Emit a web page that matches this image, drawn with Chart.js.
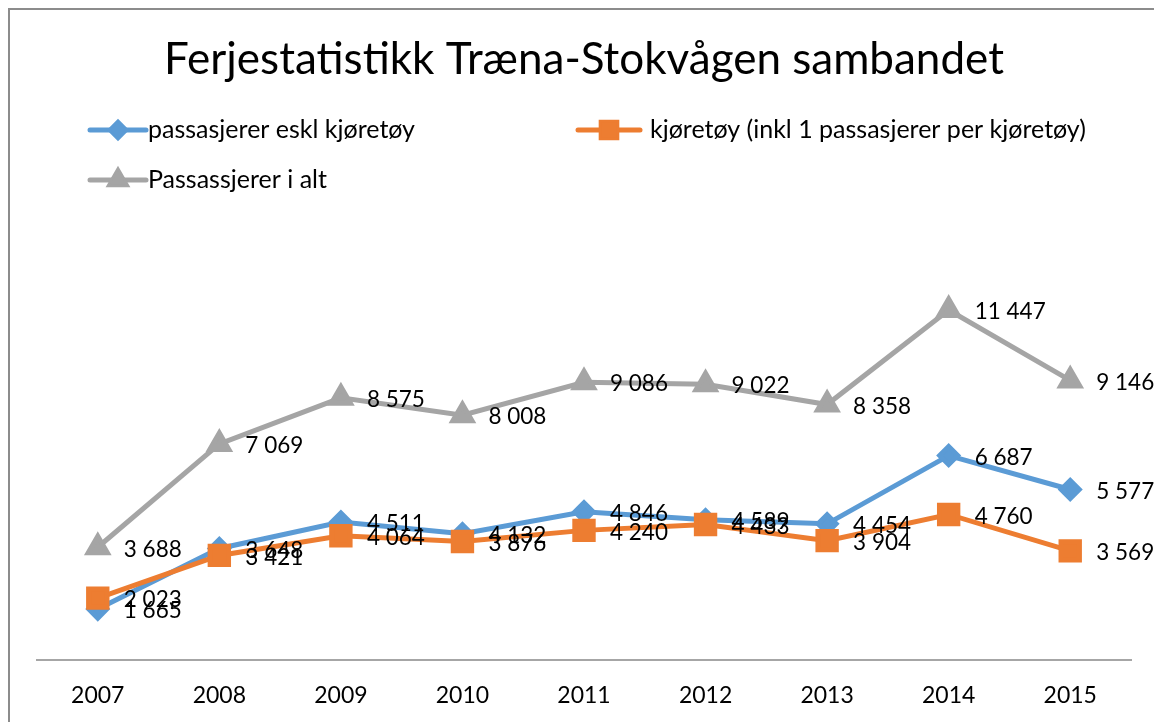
<!DOCTYPE html>
<html>
<head>
<meta charset="utf-8">
<script src="https://cdn.jsdelivr.net/npm/chart.js@4/dist/chart.umd.min.js"></script>
<style>
  html, body { margin: 0; padding: 0; background: #fff; }
  #wrap { position: relative; width: 1154px; height: 722px; }
</style>
</head>
<body>
<div id="wrap"><canvas id="ferje" width="1154" height="722"></canvas></div>
<script>
// Data
const years = ["2007", "2008", "2009", "2010", "2011", "2012", "2013", "2014", "2015"];
const passasjererEskl = [1665, 3648, 4511, 4132, 4846, 4589, 4454, 6687, 5577];
const kjoretoy = [2023, 3421, 4064, 3876, 4240, 4433, 3904, 4760, 3569];
const passasjererIAlt = [3688, 7069, 8575, 8008, 9086, 9022, 8358, 11447, 9146];

const seriesNames = [
  "passasjerer eskl kjøretøy",
  "kjøretøy (inkl 1 passasjerer per kjøretøy)",
  "Passassjerer i alt",
];
const titleText = "Ferjestatistikk Træna-Stokvågen sambandet";

const FONT = "Lato, 'Liberation Sans', sans-serif";
const colors = { blue: "#5b9bd5", orange: "#ed7d31", gray: "#a5a5a5" };

// format 11447 -> "11 447"
function fmt(v) {
  return String(v).replace(/\B(?=(\d{3})+(?!\d))/g, " ");
}

// Draws frame, title, legend and the value labels
const decorPlugin = {
  id: "decor",
  beforeDraw(chart) {
    const ctx = chart.ctx;
    ctx.save();
    ctx.fillStyle = "#fff";
    ctx.fillRect(0, 0, chart.width, chart.height);
    ctx.strokeStyle = "#8c8c8c";
    ctx.lineWidth = 2;
    ctx.beginPath();
    ctx.moveTo(9, chart.height);
    ctx.lineTo(9, 9);
    ctx.lineTo(chart.width, 9);
    ctx.stroke();
    ctx.restore();
  },
  afterDraw(chart) {
    const ctx = chart.ctx;
    ctx.save();

    // title
    ctx.fillStyle = "#000";
    ctx.font = "44px " + FONT;
    ctx.textAlign = "center";
    ctx.textBaseline = "middle";
    ctx.fillText(titleText, 584, 60);

    // legend
    const items = [
      { x: 90, y: 130, len: 56, gap: 58, ds: 0 },
      { x: 578, y: 130, len: 62, gap: 72, ds: 1 },
      { x: 90, y: 180, len: 56, gap: 58, ds: 2 },
    ];
    ctx.font = "25px " + FONT;
    ctx.textAlign = "left";
    items.forEach((it) => {
      const ds = chart.data.datasets[it.ds];
      ctx.strokeStyle = ds.borderColor;
      ctx.lineWidth = 5;
      ctx.lineCap = "round";
      ctx.beginPath();
      ctx.moveTo(it.x, it.y);
      ctx.lineTo(it.x + it.len, it.y);
      ctx.stroke();
      Chart.helpers.drawPoint(ctx, {
        pointStyle: ds.pointStyle,
        radius: ds.pointRadius * 0.85,
        rotation: 0,
        borderWidth: 1,
      }, it.x + it.len / 2, it.y);
      ctx.fillStyle = ds.backgroundColor;
      ctx.fill();
      ctx.fillStyle = "#000";
      ctx.fillText(seriesNames[it.ds], it.x + it.gap, it.y);
    });

    // value labels to the right of each point
    ctx.font = "22.5px " + FONT;
    ctx.fillStyle = "#000";
    ctx.textAlign = "left";
    ctx.textBaseline = "middle";
    chart.data.datasets.forEach((ds, i) => {
      const meta = chart.getDatasetMeta(i);
      meta.data.forEach((pt, j) => {
        ctx.fillText(fmt(ds.data[j]), pt.x + 26, pt.y + 2);
      });
    });
    ctx.restore();
  },
};

new Chart(document.getElementById("ferje"), {
  type: "line",
  data: {
    labels: years,
    datasets: [
      {
        label: seriesNames[0],
        data: passasjererEskl,
        borderColor: colors.blue,
        backgroundColor: colors.blue,
        borderWidth: 5,
        pointStyle: "rectRot",
        pointRadius: 9,
        order: 1,
      },
      {
        label: seriesNames[1],
        data: kjoretoy,
        borderColor: colors.orange,
        backgroundColor: colors.orange,
        borderWidth: 5,
        pointStyle: "rect",
        pointRadius: 13,
        order: 0,
      },
      {
        label: seriesNames[2],
        data: passasjererIAlt,
        borderColor: colors.gray,
        backgroundColor: colors.gray,
        borderWidth: 5,
        pointStyle: "triangle",
        pointRadius: 11,
        order: 2,
      },
    ],
  },
  options: {
    responsive: false,
    animation: false,
    layout: { padding: { top: 232, left: 37, right: 23, bottom: 0 } },
    elements: { line: { tension: 0 }, point: { borderWidth: 1 } },
    plugins: {
      legend: { display: false },
      title: { display: false },
      tooltip: { enabled: false },
    },
    scales: {
      x: {
        offset: true,
        afterFit(scale) { scale.height = 62; },
        grid: { display: false, drawTicks: false },
        border: { display: true, color: "#a6a6a6", width: 2 },
        ticks: {
          color: "#000",
          font: { family: FONT, size: 23 },
          padding: 22,
          maxRotation: 0,
        },
      },
      y: {
        display: false,
        min: 0,
        max: 14000,
      },
    },
  },
  plugins: [decorPlugin],
});
</script>
</body>
</html>
